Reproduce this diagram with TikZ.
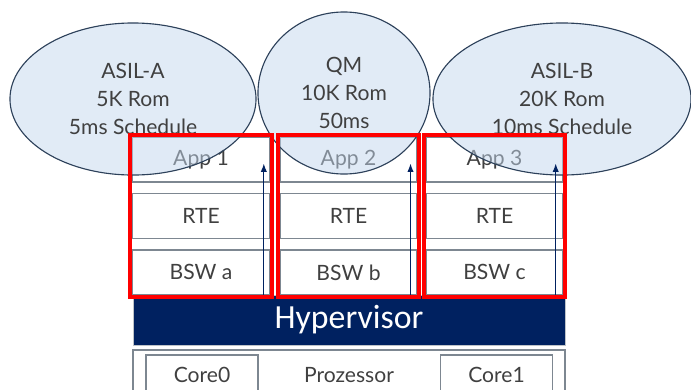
\documentclass[tikz,border=0pt]{standalone}
\usepackage{fontspec}
\setmainfont{Lato}
\newfontfamily\hvfont{Carlito}
\usetikzlibrary{shapes.geometric, positioning, arrows.meta, fit}
\definecolor{ecufill}{RGB}{195,215,238}
\definecolor{eculine}{RGB}{45,65,90}
\definecolor{txtgray}{RGB}{64,64,64}
\definecolor{layerline}{RGB}{125,135,145}
\definecolor{hvblue}{RGB}{0,33,96}
\tikzset{
  partition/.style={ellipse, draw=eculine, line width=0.8pt, fill=ecufill, fill opacity=0.5, draw opacity=1, text opacity=1, text=txtgray, align=center, inner sep=0pt, font=\fontsize{15}{19.8}\selectfont},
  layer/.style={rectangle, draw=layerline, line width=1pt, fill=white, minimum width=3.425cm, minimum height=1.125cm, text=txtgray, font=\fontsize{15}{17}\selectfont},
  redframe/.style={rectangle, draw=red, line width=2.8pt, inner sep=1pt},
  uparrow/.style={draw=hvblue, line width=0.8pt, -{Latex[length=6pt,width=4.5pt]}},
  core/.style={rectangle, draw=layerline, line width=0.8pt, minimum width=2.8cm, minimum height=1cm, text=txtgray, font=\fontsize{15}{17}\selectfont}
}
\begin{document}
\begin{tikzpicture}[x=0.025cm, y=-0.025cm, node distance=0.25cm]
        \useasboundingbox (0,0) rectangle (691,389);

        % software stacks
        \node (app1) [layer] at (201,159.5) {App 1};
        \node (rte1) [layer, below=of app1] {RTE};
        \node (bsw1) [layer, below=of rte1] {BSW a};
        \node (app2) [layer] at (348.5,159.5) {App 2};
        \node (rte2) [layer, below=of app2] {RTE};
        \node (bsw2) [layer, below=of rte2] {BSW b};
        \node (app3) [layer] at (494.5,159.5) {App 3};
        \node (rte3) [layer, below=of app3] {RTE};
        \node (bsw3) [layer, below=of rte3] {BSW c};

        % hypervisor and processor
        \node (hv) [rectangle, draw=layerline!50, fill=hvblue, text=white, minimum width=10.8cm, minimum height=1.25cm, font=\hvfont\fontsize{24}{26}\selectfont] at (349,320) {Hypervisor};
        \node (proc) [rectangle, draw=layerline, line width=0.8pt, minimum width=10.8cm, minimum height=1.25cm, text=txtgray, font=\fontsize{15}{17}\selectfont] at (349,375) {Prozessor};
        \node (core0) [core] at (202,375) {Core0};
        \node (core1) [core] at (496.5,375) {Core1};

        % partitions
        \node (asila) [partition, minimum width=6.15cm, minimum height=3.8cm] at (133,99) {ASIL-A\\5K Rom\\5ms Schedule};
        \node (qm) [partition, minimum width=4.3cm, minimum height=4.05cm] at (344,93) {QM\\10K Rom\\50ms};
        \node (asilb) [partition, minimum width=6.45cm, minimum height=3.8cm] at (562,99) {ASIL-B\\20K Rom\\10ms Schedule};

        \draw [uparrow] ([xshift=-0.16cm]bsw1.south east) -- ([xshift=-0.16cm, yshift=-0.1cm]app1.east);
        \draw [uparrow] ([xshift=-0.18cm]bsw2.south east) -- ([xshift=-0.18cm, yshift=-0.1cm]app2.east);
        \draw [uparrow] ([xshift=-0.2cm]bsw3.south east) -- ([xshift=-0.2cm, yshift=-0.1cm]app3.east);

        \node (frame1) [redframe, fit=(app1)(bsw1)] {};
        \node (frame2) [redframe, fit=(app2)(bsw2)] {};
        \node (frame3) [redframe, fit=(app3)(bsw3)] {};

    \end{tikzpicture}
\end{document}
